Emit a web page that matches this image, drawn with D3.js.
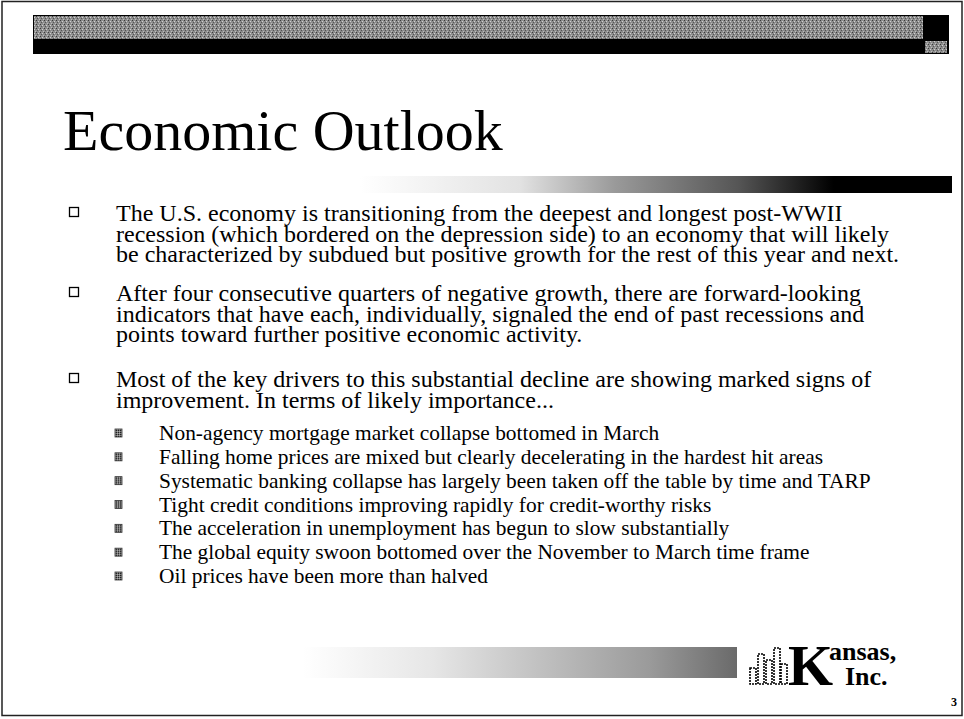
<!DOCTYPE html>
<html>
<head>
<meta charset="utf-8">
<script src="https://cdn.jsdelivr.net/npm/d3@7"></script>
<style>
  html, body { margin: 0; padding: 0; background: #fff; }
  svg { display: block; }
  text { font-family: "Liberation Serif", "Times New Roman", serif; fill: #000; }
</style>
</head>
<body>
<div id="slide"></div>
<script>
// slide content
var titleText = 'Economic Outlook'
var mainBullets = [
  ['The U.S. economy is transitioning from the deepest and longest post-WWII',
   'recession (which bordered on the depression side) to an economy that will likely',
   'be characterized by subdued but positive growth for the rest of this year and next.'],
  ['After four consecutive quarters of negative growth, there are forward-looking',
   'indicators that have each, individually, signaled the end of past recessions and',
   'points toward further positive economic activity.'],
  ['Most of the key drivers to this substantial decline are showing marked signs of',
   'improvement.  In terms of likely importance...']
]
var mainStarts = [221, 301, 387]   // baseline of first line of each bullet
var subBullets = [
  'Non-agency mortgage market collapse bottomed in March',
  'Falling home prices are mixed but clearly decelerating in the hardest hit areas',
  'Systematic banking collapse has largely been taken off the table by time and TARP',
  'Tight credit conditions improving rapidly for credit-worthy risks',
  'The acceleration in unemployment has begun to slow substantially',
  'The global equity swoon bottomed over the November to March time frame',
  'Oil prices have been more than halved'
]
var logoTop = 'ansas,'
var logoBottom = 'Inc.'
var pageNumber = '3'

var width = 964
var height = 719
var lineStep = 20.5

var svg = d3.select('#slide')
  .append('svg')
  .attr('width', width)
  .attr('height', height)

var defs = svg.append('defs')

// speckled grey used for the header band
var speck = defs.append('pattern')
  .attr('id', 'speck')
  .attr('width', 4)
  .attr('height', 4)
  .attr('patternUnits', 'userSpaceOnUse')
speck.append('rect').attr('width', 4).attr('height', 4).attr('fill', '#8c8c8c')
speck.append('rect').attr('x', 0).attr('y', 0).attr('width', 1).attr('height', 1).attr('fill', '#3a3a3a')
speck.append('rect').attr('x', 2).attr('y', 1).attr('width', 1).attr('height', 1).attr('fill', '#d0d0d0')
speck.append('rect').attr('x', 1).attr('y', 2).attr('width', 1).attr('height', 1).attr('fill', '#555')
speck.append('rect').attr('x', 3).attr('y', 3).attr('width', 1).attr('height', 1).attr('fill', '#bdbdbd')

// small dark speckle for the sub bullets
var speck2 = defs.append('pattern')
  .attr('id', 'speck2')
  .attr('width', 2)
  .attr('height', 2)
  .attr('patternUnits', 'userSpaceOnUse')
speck2.append('rect').attr('width', 2).attr('height', 2).attr('fill', '#777')
speck2.append('rect').attr('width', 1).attr('height', 1).attr('fill', '#222')
speck2.append('rect').attr('x', 1).attr('y', 1).attr('width', 1).attr('height', 1).attr('fill', '#aaa')

// title rule fades in from the left and goes solid black
var grad = defs.append('linearGradient').attr('id', 'fadeRight')
grad.append('stop').attr('offset', '0%').attr('stop-color', '#fff')
grad.append('stop').attr('offset', '27%').attr('stop-color', '#e2e2e2')
grad.append('stop').attr('offset', '43%').attr('stop-color', '#9a9a9a')
grad.append('stop').attr('offset', '64%').attr('stop-color', '#555')
grad.append('stop').attr('offset', '80%').attr('stop-color', '#000')
grad.append('stop').attr('offset', '100%').attr('stop-color', '#000')

var grad2 = defs.append('linearGradient').attr('id', 'fadeBottom')
grad2.append('stop').attr('offset', '0%').attr('stop-color', '#fff')
grad2.append('stop').attr('offset', '30%').attr('stop-color', '#e6e6e6')
grad2.append('stop').attr('offset', '80%').attr('stop-color', '#9a9a9a')
grad2.append('stop').attr('offset', '100%').attr('stop-color', '#6a6a6a')

// page frame
svg.append('rect')
  .attr('x', 2).attr('y', 1.5)
  .attr('width', 960).attr('height', 714)
  .attr('fill', 'none')
  .attr('stroke', '#222')
  .attr('stroke-width', 1.5)

// header band
svg.append('rect')
  .attr('x', 33).attr('y', 15).attr('width', 916).attr('height', 39)
  .attr('fill', '#000')
svg.append('rect')
  .attr('x', 34).attr('y', 16).attr('width', 889).attr('height', 23)
  .attr('fill', 'url(#speck)')
svg.append('rect')
  .attr('x', 925).attr('y', 41).attr('width', 22).attr('height', 12)
  .attr('fill', 'url(#speck)')

// title
svg.append('text')
  .attr('x', 63)
  .attr('y', 150)
  .style('font-size', '58px')
  .text(titleText)

svg.append('rect')
  .attr('x', 360).attr('y', 176).attr('width', 592).attr('height', 17)
  .attr('fill', 'url(#fadeRight)')

// main bullets
var main = svg.append('g').attr('class', 'main')
var blocks = main.selectAll('g')
  .data(mainBullets)
  .enter()
  .append('g')
  .attr('transform', (d, i) => 'translate(0,' + mainStarts[i] + ')')

blocks.append('rect')
  .attr('x', 69.5).attr('y', -13.5)
  .attr('width', 9).attr('height', 9)
  .attr('fill', 'none')
  .attr('stroke', '#000')
  .attr('stroke-width', 1.3)

blocks.selectAll('text')
  .data(d => d)
  .enter()
  .append('text')
  .attr('x', 116)
  .attr('y', (d, i) => i * lineStep)
  .style('font-size', '24px')
  .text(d => d)

// sub bullets
var y = d3.scalePoint()
  .domain(subBullets)
  .range([440, 583])

var subs = svg.append('g').attr('class', 'subs')
  .selectAll('g')
  .data(subBullets)
  .enter()
  .append('g')
  .attr('transform', d => 'translate(0,' + y(d) + ')')

subs.append('rect')
  .attr('x', 115).attr('y', -11)
  .attr('width', 7).attr('height', 8)
  .attr('fill', 'url(#speck2)')
  .attr('stroke', '#333')
  .attr('stroke-width', 0.8)

subs.append('text')
  .attr('x', 159)
  .attr('y', 0)
  .style('font-size', '21.4px')
  .text(d => d)

// footer band
svg.append('rect')
  .attr('x', 303).attr('y', 647).attr('width', 434).attr('height', 31)
  .attr('fill', 'url(#fadeBottom)')

// logo: little building block mark
var logo = svg.append('g').attr('transform', 'translate(750,0)')
var blocksX = [0, 8, 16, 24, 31]
var blocksTop = [668, 654, 660, 648, 664]
logo.selectAll('rect')
  .data(blocksX)
  .enter()
  .append('rect')
  .attr('x', d => d)
  .attr('y', (d, i) => blocksTop[i])
  .attr('width', 6)
  .attr('height', (d, i) => 684 - blocksTop[i])
  .attr('fill', 'none')
  .attr('stroke', '#000')
  .attr('stroke-width', 1.6)
  .attr('stroke-dasharray', '2,1')

svg.append('text')
  .attr('x', 788).attr('y', 685)
  .style('font-size', '58px')
  .style('font-weight', 'bold')
  .text('K')
svg.append('text')
  .attr('x', 829).attr('y', 660)
  .style('font-size', '26px')
  .style('font-weight', 'bold')
  .text(logoTop)
svg.append('text')
  .attr('x', 845).attr('y', 685)
  .style('font-size', '26px')
  .style('font-weight', 'bold')
  .text(logoBottom)

svg.append('text')
  .attr('x', 951).attr('y', 706)
  .style('font-size', '12px')
  .style('font-weight', 'bold')
  .text(pageNumber)
</script>
</body>
</html>
